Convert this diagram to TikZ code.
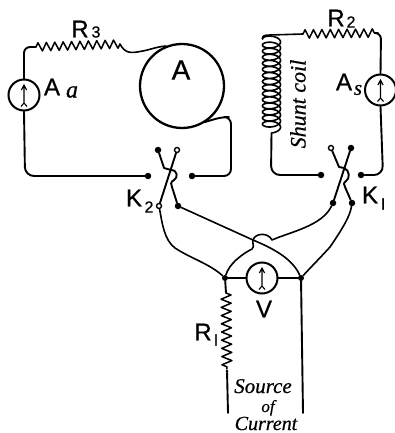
\documentclass[tikz,border=0pt]{standalone}
\usepackage{fontspec}
\setmainfont[FakeBold=0.7]{Liberation Sans}
\newfontfamily\itl[Ligatures=TeX,ItalicFeatures={FakeBold=0.6}]{Liberation Serif}
\usetikzlibrary{decorations.pathmorphing}
\tikzset{
  wire/.style={line width=1.9pt,line cap=round,line join=round},
  thin wire/.style={line width=1.6pt,line cap=round,line join=round},
  resistor/.style={line width=1.5pt,line join=round,decorate,decoration={zigzag,segment length=8.4pt,amplitude=4.2pt}},
  closed term/.style={circle,fill=black,inner sep=0pt,minimum size=6.5pt},
  open term/.style={circle,draw=black,fill=white,line width=1.4pt,inner sep=0pt,minimum size=5pt},
  joint/.style={circle,fill=black,inner sep=0pt,minimum size=6pt},
  meter/.style={circle,draw=black,line width=2pt,inner sep=0pt,minimum size=31pt,
    path picture={\draw[line width=1.1pt,shift={(path picture bounding box.center)}]
      (0,9) -- (0,-10) (-2.6,-5) -- (0,-10) -- (2.6,-5)
      (-3,11.5) -- (0,8) -- (3,11.5);}},
  lab/.style={inner sep=0pt,font=\fontsize{24}{24}\selectfont},
  sublab/.style={inner sep=0pt,font=\fontsize{16}{16}\selectfont},
  ital/.style={inner sep=0pt,font=\itl\itshape\fontsize{21}{21}\selectfont},
}
\begin{document}
\begin{tikzpicture}[x=1pt,y=-1pt]
\clip (0,0) rectangle (395,433);
% instruments
\node[meter] (aa) at (24,95) {};
\node[meter] (as) at (380.5,90) {};
\node[meter] (v) at (262,278) {};
\node[circle,draw,line width=2.3pt,minimum size=84pt,inner sep=0pt] (arm) at (182,86) {};
% switch terminals
\node[closed term] (k2l) at (148,176) {};
\node[closed term] (k2r) at (192,176) {};
\node[closed term] (k2tl) at (158,150) {};
\node[open term] (k2tr) at (177,150) {};
\node[open term] (k2bl) at (159,206) {};
\node[closed term] (k2br) at (178,206) {};
\node[closed term] (k1l) at (321,175) {};
\node[closed term] (k1r) at (361,175) {};
\node[open term] (k1tl) at (331,148) {};
\node[closed term] (k1tr) at (351,148) {};
\node[closed term] (k1bl) at (333,203) {};
\node[closed term] (k1br) at (352,203) {};
\node[joint] (j1) at (225,278) {};
\node[joint] (j2) at (301,278) {};
\node[joint,minimum size=3pt] (r1end) at (227,371) {};
% free ends
\coordinate (r3a) at (36,47);
\coordinate (r3b) at (120,44);
\coordinate (r2a) at (303,34);
\coordinate (r2b) at (378,33);
\coordinate (r1a) at (226,293);
\coordinate (coilt) at (262.5,39);
\coordinate (coilb) at (271.5,133);
\coordinate (srcl) at (228,413);
\coordinate (srcr) at (303,413);
% armature circuit
\draw[wire,rounded corners=6pt] (aa.north) -- (24,47) -- (r3a);
\draw[resistor] (r3a) -- (r3b);
\draw[thin wire] (r3b) .. controls (125,54) and (132,53) .. (140,51.5) .. controls (150,50) and (155,47) .. (166,46);
\draw[wire,rounded corners=9pt] (aa.south) -- (25,176) -- (k2l);
\draw[wire,rounded corners=7pt] (k2r) -- (231,176) -- (231,117) -- (222,117) -- (205,122);
% shunt circuit
\draw[line width=1.6pt] plot[domain=0:5310,samples=700,variable=\t] ({271.5+9*cos(\t+180)},{39+\t/360*6.08+4.3*sin(\t+180)});
\draw[thin wire] (coilt) .. controls (262,36) and (264,35) .. (270,35) -- (r2a);
\draw[resistor] (r2a) -- (r2b);
\draw[wire,rounded corners=6pt] (r2b) -- (381,33) -- (as.north);
\draw[wire,rounded corners=9pt] (as.south) -- (383,175) -- (k1r);
\draw[wire,rounded corners=9pt] (coilb) -- (271,175) -- (k1l);
% switch blades
\draw[wire] (k2tr) -- (k2bl);
\draw[wire] (k2tl) -- (164,168) -- (171,170) .. controls (178,170) and (178,178) .. (174,180) .. controls (170,182) and (171,185) .. (172,187) -- (k2br);
\draw[wire] (k1tr) -- (k1bl);
\draw[wire] (k1tl) -- (339,167) -- (344,168) .. controls (350,170) and (350,179) .. (346,181) .. controls (343,183) and (344,185) .. (345,187) -- (k1br);
% crossing leads
\draw[thin wire] (k2bl) .. controls (162,222) and (164,240) .. (175,248) .. controls (190,258) and (210,264) .. (j1);
\draw[thin wire] (k2br) -- (253,240) .. controls (272,248) and (292,258) .. (j2);
\draw[thin wire] (j1) .. controls (229,264) and (242,254) .. (252,249) .. controls (255,246) and (252,244) .. (253,240)
  .. controls (255,233) and (268,232) .. (272,240) .. controls (290,232) and (322,226) .. (k1bl);
\draw[thin wire] (k1br) .. controls (350,216) and (343,228) .. (330,247) .. controls (320,258) and (310,268) .. (j2);
\draw[thin wire] (j1) -- (v); \draw[thin wire] (v) -- (j2);
% lower part
\draw[wire] (j1) -- (r1a);
\draw[resistor,decoration={zigzag,segment length=8.2pt,amplitude=5pt}] (r1a) -- (r1end);
\draw[wire] (r1end) -- (srcl);
\draw[wire] (j2) -- (srcr);
% labels
\node[lab] (lr3) at (80,29) {R};
\node[sublab] (lr3s) at (96,32) {3};
\node[lab,font=\fontsize{28}{28}\selectfont] (la) at (181,70) {A};
\node[lab] (laa) at (52,87) {A};
\node[ital,font=\itl\itshape\fontsize{24}{24}\selectfont] (laas) at (72,92) {a};
\node[lab] (lr2) at (336,18) {R};
\node[sublab] (lr2s) at (351,22) {2};
\node[lab] (las) at (344,82) {A};
\node[ital] (lass) at (358,90) {s};
\node[lab] (lk2) at (134,198) {K};
\node[sublab] (lk2s) at (149,207) {2};
\node[lab] (lk1) at (370,195) {K};
\node[sublab] (lk1s) at (383,204) {I};
\node[lab] (lv) at (264,309) {V};
\node[lab] (lr1) at (203,332) {R};
\node[sublab] (lr1s) at (216,340) {I};
\node[ital,rotate=90,font=\itl\itshape\fontsize{22}{22}\selectfont] (lsc) at (298,104) {Shunt coil};
\node[ital,anchor=base] (ls1) at (263,393) {Source};
\node[ital,anchor=base,font=\itl\itshape\fontsize{17}{17}\selectfont] (ls2) at (268,412) {of};
\node[ital,anchor=base,font=\itl\itshape\fontsize{20}{20}\selectfont] (ls3) at (266,430) {Current};
\end{tikzpicture}
\end{document}
